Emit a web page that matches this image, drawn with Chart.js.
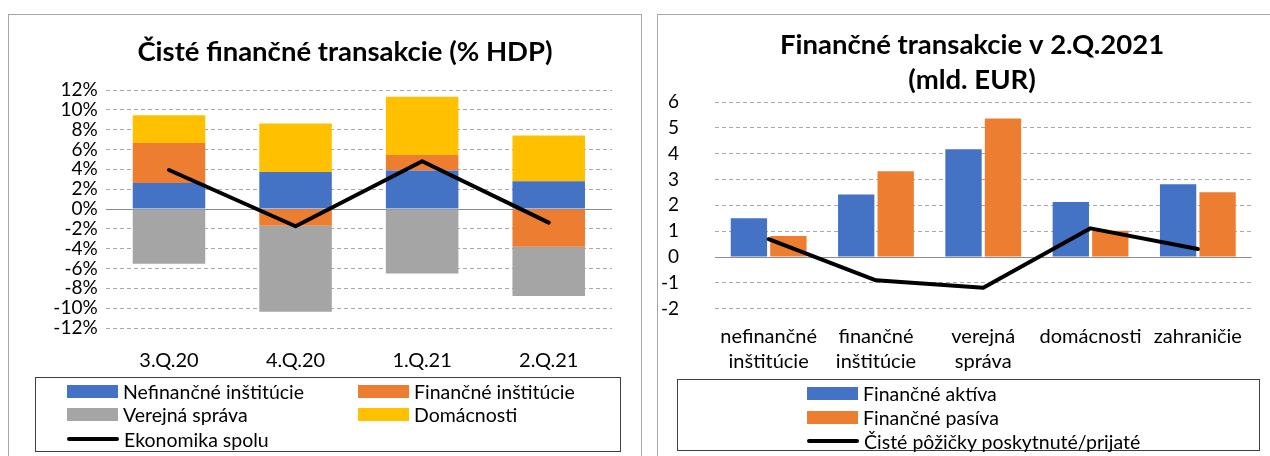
<!DOCTYPE html>
<html><head><meta charset="utf-8">
<script src="https://cdn.jsdelivr.net/npm/chart.js@4/dist/chart.umd.min.js"></script>
<style>
html,body{margin:0;padding:0;background:#fff;}
body{width:1270px;height:456px;overflow:hidden;position:relative;font-family:Lato,"Open Sans",sans-serif;}
.panel{position:absolute;border:1.5px solid #a6a6a6;box-sizing:border-box;}
.cv{position:absolute;}
.legend{position:absolute;border:1px solid #3f3f3f;box-sizing:border-box;}
.item{position:absolute;display:flex;align-items:center;white-space:nowrap;font-size:19.5px;color:#000;height:22px;}
.sw{display:inline-block;margin-right:5px;}
</style></head>
<body>
<div class="panel" style="left:8px;top:14px;width:634px;height:470px;"></div>
<div class="panel" style="left:657px;top:14px;width:640px;height:470px;"></div>
<canvas id="c1" class="cv" width="672" height="362" style="left:9px;top:16px;width:672px;height:362px;"></canvas>
<canvas id="c2" class="cv" width="622" height="362" style="left:661px;top:16px;width:622px;height:362px;"></canvas>
<div id="lg1" class="legend" style="left:35px;top:377px;width:586px;height:75px;"></div>
<div id="lg2" class="legend" style="left:677px;top:379px;width:583px;height:72px;"></div>
<script>
// ---------- data: left chart ----------
const leftTitle = 'Čisté finančné transakcie (% HDP)';
const leftCategories = ['3.Q.20', '4.Q.20', '1.Q.21', '2.Q.21'];
const leftSeriesNames = ['Nefinančné inštitúcie', 'Finančné inštitúcie', 'Verejná správa', 'Domácnosti', 'Ekonomika spolu'];
const leftNefinancne = [2.63, 3.73, 3.87, 2.80];
const leftFinancne = [4.03, -1.70, 1.57, -3.80];
const leftVerejna = [-5.53, -8.67, -6.50, -4.97];
const leftDomacnosti = [2.80, 4.90, 5.87, 4.60];
const leftEkonomika = [3.93, -1.74, 4.81, -1.37];
const leftYMin = -12, leftYMax = 12, leftYStep = 2;

// ---------- data: right chart ----------
const rightTitle = ['Finančné transakcie v 2.Q.2021', '(mld. EUR)'];
const rightCategories = [['nefinančné', 'inštitúcie'], ['finančné', 'inštitúcie'], ['verejná', 'správa'], 'domácnosti', 'zahraničie'];
const rightSeriesNames = ['Finančné aktíva', 'Finančné pasíva', 'Čisté pôžičky poskytnuté/prijaté'];
const rightAktiva = [1.50, 2.42, 4.17, 2.13, 2.82];
const rightPasiva = [0.81, 3.32, 5.36, 1.02, 2.51];
const rightCiste = [0.69, -0.90, -1.19, 1.11, 0.31];
const rightYMin = -2, rightYMax = 6, rightYStep = 1;

// ---------- styles ----------
const BLUE = '#4472C4', ORANGE = '#ED7D31', GRAY = '#A5A5A5', YELLOW = '#FFC000', BLACK = '#000000';
Chart.defaults.font.family = 'Lato, "Open Sans", sans-serif';
Chart.defaults.color = '#000';
Chart.defaults.animation = false;

function gridColor(ctx){ return (ctx.tick && ctx.tick.value === 0) ? '#8c8c8c' : '#a9a9a9'; }
function gridDash(ctx){ return (ctx.tick && ctx.tick.value === 0) ? [] : [4, 3]; }

function makeOptions(cfg){
  return {
    responsive: false,
    animation: false,
    layout: {padding: 0},
    plugins: {
      legend: {display: false},
      tooltip: {enabled: false},
      title: {
        display: true, text: cfg.title, color: '#000',
        font: {size: 27.5, weight: 'bold', lineHeight: cfg.titleLH},
        padding: {top: cfg.titleTop, bottom: cfg.titleBottom}
      }
    },
    scales: {
      x: {
        stacked: cfg.stacked,
        grid: {display: false},
        border: {display: false},
        ticks: {font: {size: 20, lineHeight: cfg.xLH}, color: '#000', padding: cfg.xPad, maxRotation: 0, autoSkip: false},
        afterFit: s => { s.height = cfg.xHeight; }
      },
      y: {
        stacked: cfg.stacked,
        position: 'left',
        min: cfg.min, max: cfg.max,
        ticks: {stepSize: cfg.step, autoSkip: false, font: {size: 19}, color: '#000', padding: cfg.yPad,
                callback: v => cfg.pct ? v + '%' : String(v)},
        grid: {color: gridColor, lineWidth: 1, drawTicks: false},
        border: {display: false, dash: gridDash},
        afterFit: s => { s.width = cfg.yWidth; }
      },
      // empty right-hand spacer axis (no marks) that reserves the space right of the plot
      spacer: {
        type: 'linear', position: 'right', display: true,
        grid: {display: false, drawTicks: false}, border: {display: false},
        ticks: {display: false},
        afterFit: s => { s.width = cfg.rightWidth; }
      }
    }
  };
}

function buildLegend(chart, id, pos){
  const box = document.getElementById(id);
  chart.data.datasets.forEach((ds, i) => {
    const it = document.createElement('div');
    it.className = 'item';
    it.style.left = pos[i][0] + 'px';
    it.style.top = (pos[i][1] - 11) + 'px';
    const sw = document.createElement('span');
    sw.className = 'sw';
    if (ds.type === 'line') {
      sw.style.width = '52px'; sw.style.height = '4px'; sw.style.background = ds.borderColor; sw.style.borderRadius = '2px';
    } else {
      sw.style.width = '51px'; sw.style.height = '13px'; sw.style.background = ds.backgroundColor;
    }
    it.appendChild(sw);
    it.appendChild(document.createTextNode(ds.label));
    box.appendChild(it);
  });
}

// ---------- left chart ----------
const c1 = new Chart(document.getElementById('c1'), {
  type: 'bar',
  data: {
    labels: leftCategories,
    datasets: [
      {label: leftSeriesNames[0], data: leftNefinancne, backgroundColor: BLUE, stack: 'bars', categoryPercentage: 1, barPercentage: 0.573},
      {label: leftSeriesNames[1], data: leftFinancne, backgroundColor: ORANGE, stack: 'bars', categoryPercentage: 1, barPercentage: 0.573},
      {label: leftSeriesNames[2], data: leftVerejna, backgroundColor: GRAY, stack: 'bars', categoryPercentage: 1, barPercentage: 0.573},
      {label: leftSeriesNames[3], data: leftDomacnosti, backgroundColor: YELLOW, stack: 'bars', categoryPercentage: 1, barPercentage: 0.573},
      {label: leftSeriesNames[4], type: 'line', data: leftEkonomika, borderColor: BLACK, backgroundColor: BLACK,
       borderWidth: 4, pointRadius: 0, tension: 0, stack: 'line', order: -1, borderJoinStyle: 'round', borderCapStyle: 'round'}
    ]
  },
  options: makeOptions({
    stacked: true, title: leftTitle, titleLH: 1.2, titleTop: 19.5, titleBottom: 21.5,
    rightWidth: 69, xHeight: 50, xPad: 13, xLH: 1.2, yPad: 8, yWidth: 96.7,
    min: leftYMin, max: leftYMax, step: leftYStep, pct: true
  })
});
buildLegend(c1, 'lg1', [[31, 13], [322, 13], [31, 36], [322, 36], [31, 61]]);

// ---------- right chart ----------
const c2 = new Chart(document.getElementById('c2'), {
  type: 'bar',
  data: {
    labels: rightCategories,
    datasets: [
      {label: rightSeriesNames[0], data: rightAktiva, backgroundColor: BLUE, categoryPercentage: 0.736, barPercentage: 0.92},
      {label: rightSeriesNames[1], data: rightPasiva, backgroundColor: ORANGE, categoryPercentage: 0.736, barPercentage: 0.92},
      {label: rightSeriesNames[2], type: 'line', data: rightCiste, borderColor: BLACK, backgroundColor: BLACK,
       borderWidth: 4, pointRadius: 0, tension: 0, order: -1, borderJoinStyle: 'round', borderCapStyle: 'round'}
    ]
  },
  options: makeOptions({
    stacked: false, title: rightTitle, titleLH: 35 / 27.5, titleTop: 11.5, titleBottom: 4.5,
    rightWidth: 31.5, xHeight: 69.3, xPad: 7, xLH: 1.25, yPad: 36, yWidth: 54,
    min: rightYMin, max: rightYMax, step: rightYStep, pct: false
  })
});
buildLegend(c2, 'lg2', [[129, 13], [129, 37], [129, 61]]);
</script>
</body></html>
